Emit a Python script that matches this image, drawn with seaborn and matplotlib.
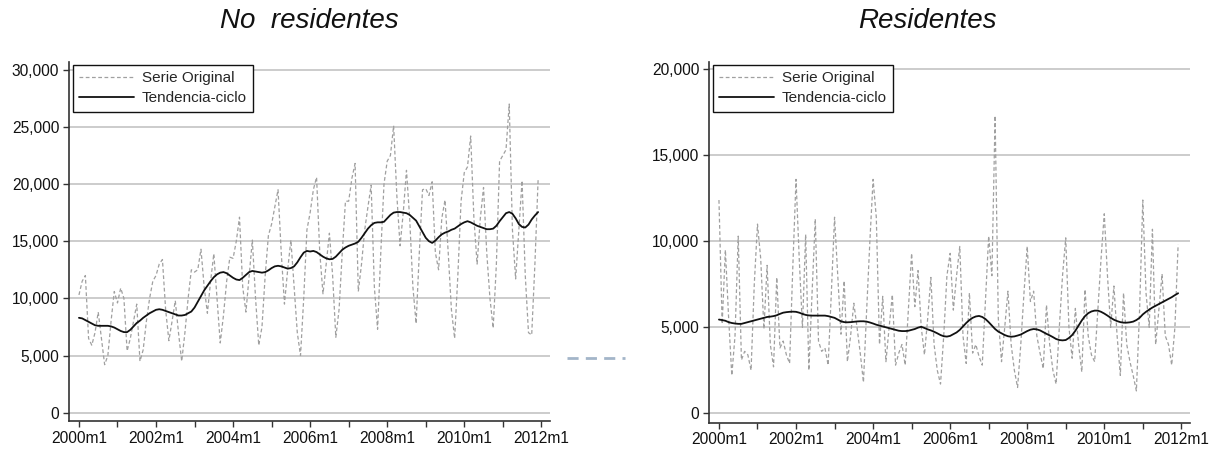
import numpy as np
import pandas as pd
import matplotlib
matplotlib.use("Agg")
import matplotlib.pyplot as plt
from matplotlib.lines import Line2D
import seaborn as sns

# ---------------- data (monthly, 2000m1 .. 2011m12) ----------------
titles = ["No  residentes", "Residentes"]
legend_labels = ["Serie Original", "Tendencia-ciclo"]
tick_labels = ["2000m1", "2002m1", "2004m1", "2006m1", "2008m1", "2010m1", "2012m1"]

no_res_original = [
    10300, 11500, 12000, 6500, 5900, 7000, 8800, 6500, 4200, 5000, 8000, 10600,
    9600, 10900, 10000, 5400, 6500, 8000, 9500, 4500, 5500, 8000, 10000, 11500,
    12000, 13000, 13400, 9000, 6300, 8000, 9800, 7000, 4500, 7000, 10000, 12500,
    12300, 12500, 14300, 11000, 8700, 11500, 13900, 10000, 6100, 8500, 11500, 13600,
    13500, 15000, 17100, 11000, 8800, 12000, 15100, 10000, 5900, 7500, 12000, 15500,
    16500, 18000, 19500, 14000, 9500, 12500, 15100, 11000, 7000, 5000, 10000, 16000,
    17500, 19500, 20600, 14000, 10400, 13000, 15700, 12000, 6600, 9000, 14000, 18500,
    18500, 20500, 21800, 10600, 13000, 16000, 18000, 19900, 11000, 7300, 14000, 20000,
    22000, 22500, 25100, 19000, 14600, 17500, 21200, 17000, 11000, 7800, 14000, 19500,
    19600, 19000, 20200, 14000, 12500, 17000, 18600, 14000, 9000, 6500, 12000, 18500,
    21000, 21500, 24200, 17000, 13000, 17000, 19700, 14000, 10000, 7400, 13000, 22000,
    22500, 23000, 27000, 16000, 11700, 16000, 20300, 12000, 7000, 6800, 13000, 20400,
]
no_res_trend = [
    8300, 8250, 8100, 7950, 7800, 7650, 7600, 7600, 7600, 7600, 7550, 7450,
    7300, 7150, 7050, 7050, 7250, 7550, 7850, 8050, 8300, 8500, 8700, 8850,
    9000, 9050, 9000, 8900, 8800, 8700, 8600, 8500, 8500, 8550, 8700, 8850,
    9200, 9700, 10200, 10700, 11100, 11500, 11850, 12100, 12250, 12300, 12200, 12000,
    11800, 11650, 11600, 11800, 12050, 12300, 12400, 12350, 12300, 12250, 12300, 12450,
    12650, 12800, 12850, 12800, 12700, 12600, 12650, 12800, 13150, 13600, 14000, 14150,
    14100, 14150, 14050, 13850, 13650, 13500, 13420, 13450, 13650, 13950, 14250, 14450,
    14600, 14700, 14800, 14950, 15300, 15700, 16100, 16400, 16600, 16650, 16650, 16700,
    17000, 17300, 17500, 17550, 17550, 17500, 17450, 17300, 17050, 16800, 16300, 15800,
    15300, 15000, 14850, 15050, 15350, 15600, 15750, 15850, 16000, 16100, 16300, 16500,
    16650, 16750, 16650, 16500, 16350, 16250, 16150, 16050, 16050, 16100, 16350, 16750,
    17100, 17450, 17550, 17400, 17000, 16500, 16250, 16200, 16450, 16900, 17250, 17550,
]
res_original = [
    12400, 5200, 9500, 5600, 2200, 4500, 10300, 3100, 3600, 3400, 2500, 7500,
    11000, 9000, 4900, 8600, 4000, 2700, 7900, 3800, 4200, 3400, 2900, 8500,
    13600, 9000, 5000, 10400, 2500, 7000, 11300, 4200, 3600, 3800, 2800, 7000,
    11400, 8000, 4600, 7700, 3000, 4500, 6400, 5000, 3500, 1800, 6000, 10000,
    13600, 11400, 4000, 6800, 3000, 5000, 6900, 2800, 3500, 4000, 2800, 6000,
    9300, 6200, 8300, 5000, 3400, 5500, 7900, 4000, 2500, 1700, 4500, 8000,
    9300, 6000, 8000, 9700, 4500, 2900, 7000, 3500, 4000, 3300, 2800, 6500,
    10300, 8000, 17300, 5500, 3000, 5000, 7100, 4000, 2500, 1500, 4000, 7000,
    9700, 6500, 7100, 4500, 3500, 2600, 6300, 4000, 2500, 1700, 5000, 8000,
    10200, 5000, 3200, 6100, 4000, 2400, 7200, 4500, 3400, 3000, 6000, 9000,
    11600, 8000, 5000, 7400, 4500, 2200, 7000, 4000, 3000, 2200, 1300, 6000,
    12400, 7000, 5000, 10700, 4000, 6000, 8100, 4500, 4000, 2800, 5000, 9800,
]
res_trend = [
    5450, 5420, 5380, 5300, 5250, 5220, 5200, 5200, 5250, 5300, 5350, 5400,
    5450, 5500, 5550, 5600, 5620, 5650, 5700, 5780, 5850, 5880, 5900, 5910,
    5900, 5850, 5780, 5720, 5690, 5680, 5680, 5680, 5680, 5680, 5650, 5600,
    5550, 5450, 5350, 5300, 5290, 5300, 5320, 5340, 5350, 5350, 5330, 5280,
    5220, 5150, 5100, 5050, 5000, 4950, 4900, 4850, 4800, 4780, 4780, 4800,
    4850, 4900, 4980, 5030, 4960, 4880, 4820, 4740, 4650, 4550, 4480, 4460,
    4500, 4600, 4700, 4850, 5050, 5250, 5420, 5550, 5630, 5660, 5600, 5480,
    5300, 5100, 4900, 4750, 4650, 4550, 4480, 4450, 4470, 4520, 4580, 4680,
    4780, 4860, 4900, 4880, 4820, 4720, 4620, 4530, 4430, 4320, 4260, 4240,
    4260, 4380, 4550, 4800, 5100, 5400, 5650, 5820, 5920, 5970, 5970, 5900,
    5800, 5680, 5550, 5440, 5360, 5300, 5270, 5270, 5290, 5330, 5420, 5550,
    5750, 5900, 6030, 6150, 6250, 6350, 6450, 6550, 6650, 6750, 6870, 6980,
]
left_yticks = [0, 5000, 10000, 15000, 20000, 25000, 30000]
right_yticks = [0, 5000, 10000, 15000, 20000]

# ---------------- style ----------------
sns.set_theme(style="white")
plt.rcParams["font.family"] = ["Liberation Sans", "DejaVu Sans"]

W, H = 1209, 449
fig = plt.figure(figsize=(W / 100, H / 100), dpi=100)

def make_df(orig, trend):
    t = np.arange(len(orig))
    return pd.DataFrame({"t": t, "orig": orig, "trend": trend})

panels = [
    dict(df=make_df(no_res_original, no_res_trend), rect=[69 / W, 1 - 421 / H, 481 / W, 359.3 / H],
         ylim=(-725, 30700), yticks=left_yticks, title=titles[0], tx=309 / W),
    dict(df=make_df(res_original, res_trend), rect=[709 / W, 1 - 422.7 / H, 481 / W, 361 / H],
         ylim=(-547, 20442), yticks=right_yticks, title=titles[1], tx=927 / W),
]

for p in panels:
    ax = fig.add_axes(p["rect"])
    df = p["df"]
    sns.lineplot(data=df, x="t", y="orig", ax=ax, color="#a0a0a0", linewidth=0.9,
                 linestyle=(0, (3.0, 2.0)), label=legend_labels[0])
    sns.lineplot(data=df, x="t", y="trend", ax=ax, color="#111111", linewidth=1.3,
                 label=legend_labels[1])
    ax.set_xlim(-3.1, 146.7)
    ax.set_ylim(*p["ylim"])
    ax.set_yticks(p["yticks"])
    ax.set_yticklabels([f"{v:,}" for v in p["yticks"]])
    ax.set_xticks(np.arange(0, 145, 24))
    ax.set_xticklabels(tick_labels)
    ax.set_xticks(np.arange(12, 145, 24), minor=True)
    ax.set_xlabel("")
    ax.set_ylabel("")
    ax.grid(axis="y", color="#c4c4c4", linewidth=1.2)
    ax.grid(axis="x", visible=False)
    ax.set_axisbelow(True)
    for s in ["top", "right"]:
        ax.spines[s].set_visible(False)
    for s in ["left", "bottom"]:
        ax.spines[s].set_color("#333333")
        ax.spines[s].set_linewidth(1.2)
    ax.tick_params(axis="both", which="both", direction="out", length=4.5, width=1.0,
                   color="#333333", labelsize=11.2, labelcolor="#111111", pad=2.5)
    ax.tick_params(axis="x", which="both", bottom=True)
    ax.tick_params(axis="y", left=True)
    leg = ax.legend(loc="upper left", bbox_to_anchor=(0.008, 0.992), borderaxespad=0,
                    fontsize=11, frameon=True, fancybox=False, framealpha=1,
                    handlelength=3.6, handletextpad=0.5, labelspacing=0.42,
                    borderpad=0.42)
    leg.get_frame().set_edgecolor("#111111")
    leg.get_frame().set_linewidth(1.0)
    fig.text(p["tx"], 1 - 21 / H, p["title"], ha="center", va="center",
             fontsize=20, style="italic", color="#111111")

# stray dashed segment between the panels (as in the reference)
fig.add_artist(Line2D([566.7 / W, 625 / W], [1 - 357.7 / H] * 2, transform=fig.transFigure,
                      color="#a3b5c9", linewidth=2.0, dashes=(4, 2.6)))

fig.savefig("out.png", dpi=100)
